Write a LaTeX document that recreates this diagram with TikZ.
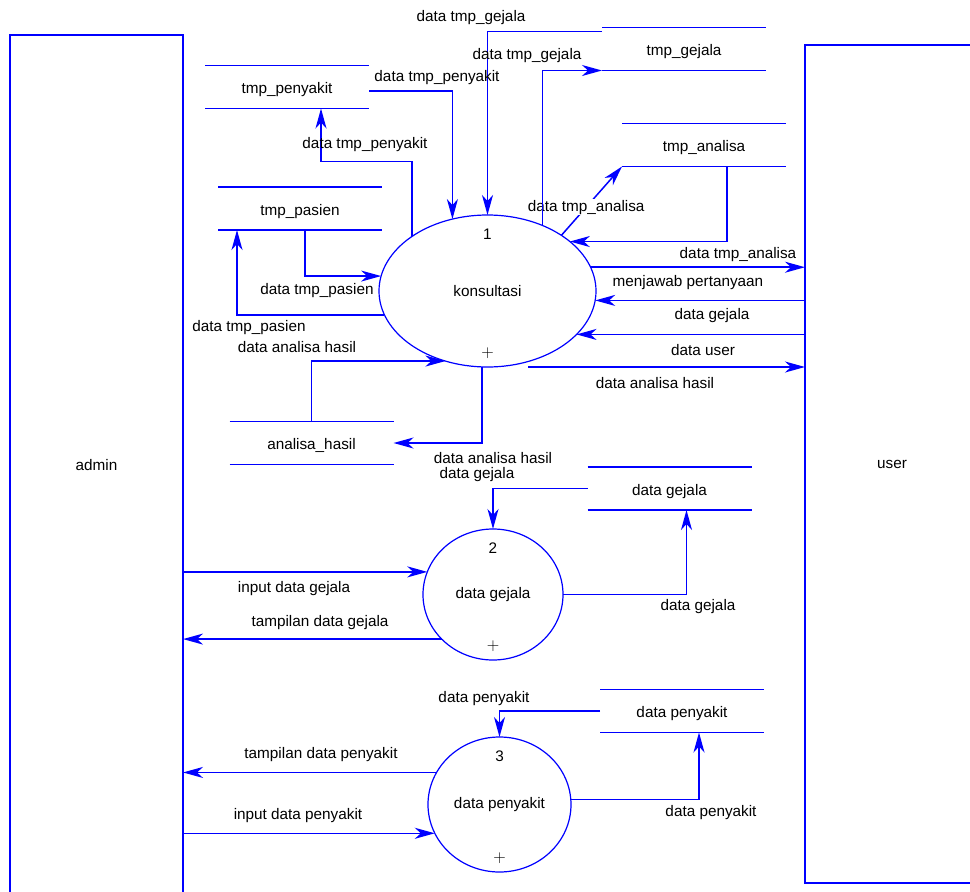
\documentclass[tikz,border=0pt]{standalone}
\usepackage{fontspec}
\setmainfont{Liberation Sans}
\usetikzlibrary{arrows.meta,shapes.geometric}

\begin{document}
\begin{tikzpicture}[x=1pt,y=-1pt,
    font=\fontsize{15.3}{18}\selectfont,
    line width=1.2pt,
    entity/.style={draw=blue, rectangle, inner sep=0pt, outer sep=0pt},
    proc/.style={draw=blue, ellipse, inner sep=0pt, outer sep=0pt},
    store/.style={inner sep=0pt, outer sep=0pt, minimum width=164pt, minimum height=43pt,
        text height=17pt, text depth=4pt},
    dflow/.style={draw=blue, line width=1.5pt, -{Stealth[length=20pt,width=11pt,inset=6pt]}}]
    \clip (0,0) rectangle (970,892);

    % External entities
    \node[entity, minimum width=173pt, minimum height=860pt] (admin) at (96.5,465) {admin};
    \node[entity, minimum width=174pt, minimum height=838pt] (user) at (892,464) {user};

    % Processes
    \node[proc, minimum width=217pt, minimum height=152pt] (p1) at (487.5,291) {konsultasi};
    \node[proc, minimum width=140pt, minimum height=131pt] (p2) at (493,594.5) {data gejala};
    \node[proc, minimum width=143pt, minimum height=135pt] (p3) at (499.5,804.5) {data penyakit};
    \foreach \p/\n in {p1/1,p2/2,p3/3} {
        \node at ([yshift=-19pt]\p.north) {\n};
        \node[font=\fontsize{19}{20}\selectfont] at ([yshift=14pt]\p.south) {$+$};
    }

    % Data stores
    \node[store] (tgejala) at (684,49) {tmp\_gejala};
    \node[store] (tpenyakit) at (287,87) {tmp\_penyakit};
    \node[store] (tanalisa) at (704,145) {tmp\_analisa};
    \node[store] (tpasien) at (300,208.5) {tmp\_pasien};
    \node[store] (ahasil) at (311.5,443) {analisa\_hasil};
    \node[store] (sgejala) at (669.5,488.5) {data gejala};
    \node[store] (spenyakit) at (682,711) {data penyakit};
    \foreach \s in {tgejala,tpenyakit,tanalisa,tpasien,ahasil,sgejala,spenyakit} {
        \draw[blue, line width=1.5pt] (\s.north west) -- (\s.north east) (\s.south west) -- (\s.south east);
    }

    % Flows of konsultasi
    \draw[dflow] (p1.37) -- node[pos=0.41, fill=white, inner sep=1pt] {data tmp\_analisa} (tanalisa.south west);
    \draw[dflow] ([yshift=-4pt]tgejala.north west) -| (p1.north);
    \draw[dflow] (p1.50) |- (tgejala.south west);
    \draw[dflow] ([yshift=-4pt]tpenyakit.east) -| (p1.116);
    \draw[dflow] (p1.144) |- ([xshift=34pt,yshift=-53pt]tpenyakit.south) -- ([xshift=34pt]tpenyakit.south);
    \draw[dflow] ([xshift=5pt]tpasien.south) |- (p1.172);
    \draw[dflow] (p1.193) -| ([xshift=-63pt]tpasien.south);
    \draw[dflow] (ahasil.north) |- (p1.239);
    \draw[dflow] (p1.266) |- (ahasil.east);
    \draw[dflow] ([xshift=23pt]tanalisa.south) |- (p1.31);
    \draw[dflow] (p1.13) -- (p1.13 -| user.west);
    \draw[dflow] (p1.355 -| user.west) -- (p1.355);
    \draw[dflow] (p1.334 -| user.west) -- (p1.334);
    \coordinate (du) at (528,367);
    \draw[dflow] (du) -- (du -| user.west);

    % Flows of data gejala
    \draw[dflow] (sgejala.west) -| (p2.north);
    \draw[dflow] (p2.east) -| ([xshift=17pt]sgejala.south);
    \draw[dflow] (p2.161 -| admin.east) -- (p2.161);
    \draw[dflow] (p2.221) -- (p2.221 -| admin.east);

    % Flows of data penyakit
    \draw[dflow] (spenyakit.west) -| (p3.north);
    \draw[dflow] (p3.4) -| ([xshift=17pt]spenyakit.south);
    \draw[dflow] (p3.153) -- (p3.153 -| admin.east);
    \draw[dflow] (p3.204 -| admin.east) -- (p3.204);

    % Flow labels
    \node at (471,18) {data tmp\_gejala};
    \node at (527,56) {data tmp\_gejala};
    \node at (437,78) {data tmp\_penyakit};
    \node at (365,145) {data tmp\_penyakit};
    \node at (738,255) {data tmp\_analisa};
    \node at (688,283) {menjawab pertanyaan};
    \node at (317,291) {data tmp\_pasien};
    \node at (712,316) {data gejala};
    \node at (249,328) {data tmp\_pasien};
    \node at (297,347) {data analisa hasil};
    \node at (703,350) {data user};
    \node at (655,383) {data analisa hasil};
    \node at (493,458) {data analisa hasil};
    \node at (477,475) {data gejala};
    \node at (294,589) {input data gejala};
    \node at (698,607) {data gejala};
    \node at (320,623) {tampilan data gejala};
    \node at (484,699) {data penyakit};
    \node at (321,755) {tampilan data penyakit};
    \node at (711,813) {data penyakit};
    \node at (298,816) {input data penyakit};
\end{tikzpicture}
\end{document}
